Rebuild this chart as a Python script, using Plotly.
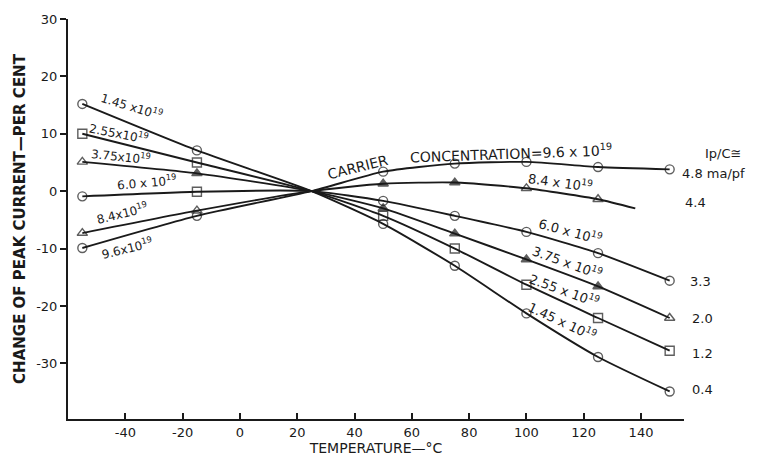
import plotly.graph_objects as go

# ---- data ----
temps = [-55, -15, 25, 50, 75, 100, 125, 150]
temps_84 = [-55, -15, 25, 50, 75, 100, 125, 138]

y_145 = [15.2, 7.1, 0, -5.7, -13.0, -21.3, -28.9, -34.9]
y_255 = [10.0, 5.0, 0, -4.3, -10.0, -16.3, -22.1, -27.8]
y_375 = [5.1, 3.1, 0, -3.0, -7.4, -11.9, -16.6, -22.1]
y_60 = [-0.9, -0.1, 0, -1.7, -4.3, -7.1, -10.8, -15.6]
y_84 = [-7.3, -3.4, 0, 1.3, 1.5, 0.5, -1.4, -3.0]
y_96 = [-9.9, -4.3, 0, 3.4, 4.8, 5.1, 4.2, 3.8]

sym_145 = ["circle-open"] * 8
sym_255 = ["square-open"] * 8
sym_375 = ["triangle-up-open", "triangle-up", "circle", "triangle-up", "triangle-up",
           "triangle-up", "triangle-up", "triangle-up-open"]
sym_60 = ["circle-open", "square-open", "circle", "circle-open", "circle-open",
          "circle-open", "circle-open", "circle-open"]
sym_84 = ["triangle-up-open", "triangle-up-open", "circle", "triangle-up", "triangle-up",
          "triangle-up-open", "triangle-up-open", "circle"]
sym_96 = ["circle-open"] * 8

# marker shown? (convergence point at 25 C and 8.4 line end carry no marker)
show_std = [1, 1, 0, 1, 1, 1, 1, 1]
show_84 = [1, 1, 0, 1, 1, 1, 1, 0]

x_ticks = [-40, -20, 0, 20, 40, 60, 80, 100, 120, 140]
x_tick_labels = ["-40", "-20", "0", "20", "40", "60", "80", "100", "120", "140"]
y_ticks = [-30, -20, -10, 0, 10, 20, 30]
y_tick_labels = ["-30", "-20", "-10", "0", "10", "20", "30"]

ipc_header = "Ip/C≅"
ipc_values = ["4.8 ma/pf", "4.4", "3.3", "2.0", "1.2", "0.4"]

FONT = "DejaVu Sans"
INK = "#1a1a1a"

fig = go.Figure()

series = [
    (temps, y_145, sym_145, show_std),
    (temps, y_255, sym_255, show_std),
    (temps, y_375, sym_375, show_std),
    (temps, y_60, sym_60, show_std),
    (temps_84, y_84, sym_84, show_84),
    (temps, y_96, sym_96, show_std),
]
for xs, ys, syms, show in series:
    fig.add_trace(go.Scatter(
        x=xs, y=ys, mode="lines+markers",
        line=dict(color=INK, width=1.9, shape="spline", smoothing=0.6),
        marker=dict(symbol=syms, size=[9 * s for s in show], color=INK,
                    line=dict(color=INK, width=1.4)),
        showlegend=False, cliponaxis=False,
    ))

def ann(x, y, text, angle=0, size=12, xanchor="center", xref="x"):
    fig.add_annotation(x=x, y=y, xref=xref, yref="y", text=text, showarrow=False,
                       textangle=angle, xanchor=xanchor, yanchor="middle",
                       font=dict(family=FONT, size=size, color=INK))

# left labels
ann(-37.8, 14.8, "1.45 x10<sup>19</sup>", 17)
ann(-42.3, 10.2, "2.55x10<sup>19</sup>", 11)
ann(-41.6, 6.1, "3.75x10<sup>19</sup>", 6)
ann(-32.5, 1.6, "6.0 x 10<sup>19</sup>", -5)
ann(-41.3, -3.8, "8.4x10<sup>19</sup>", -14)
ann(-39.5, -9.9, "9.6x10<sup>19</sup>", -14)

# right labels
ann(41.3, 4.2, "CARRIER", -14, 14)
ann(94.5, 6.6, "CONCENTRATION=9.6 x 10<sup>19</sup>", -2, 14)
ann(111.9, 1.6, "8.4 x 10<sup>19</sup>", 8, 13)
ann(115.4, -7.0, "6.0 x 10<sup>19</sup>", 15, 13)
ann(114.3, -12.3, "3.75 x 10<sup>19</sup>", 20, 13)
ann(113.3, -17.2, "2.55 x 10<sup>19</sup>", 20, 13)
ann(112.6, -22.6, "1.45 x 10<sup>19</sup>", 25, 13)

# Ip/C column (paper x so it can sit right of the axis)
ann(1.031, 6.6, ipc_header, 0, 13, "left", "paper")
ipc_pos = [(0.9935, 3.1), (0.998, -1.9), (1.0065, -15.8),
           (1.0097, -22.1), (1.0097, -28.2), (1.0097, -34.6)]
for txt, (px, py) in zip(ipc_values, ipc_pos):
    ann(px, py, txt, 0, 13, "left", "paper")

fig.update_layout(
    width=760, height=456,
    margin=dict(l=60, r=84, t=10.5, b=45),
    paper_bgcolor="white", plot_bgcolor="white",
    font=dict(family=FONT, size=13, color=INK),
    xaxis=dict(range=[-60, 155], tickvals=x_ticks, ticktext=x_tick_labels,
               ticks="inside", ticklen=6, automargin=False,
               tickwidth=1.5, tickcolor=INK, showline=True, linecolor=INK,
               linewidth=2, showgrid=False, zeroline=False,
               title=dict(text="TEMPERATURE—°C", font=dict(size=14), standoff=2),
               tickfont=dict(size=13)),
    yaxis=dict(range=[-39.7, 30], tickvals=y_ticks, ticktext=y_tick_labels,
               ticks="outside", ticklen=6, tickwidth=1.5, tickcolor=INK,
               showline=True, linecolor=INK, linewidth=2, showgrid=False,
               zeroline=False, automargin=False,
               title=dict(text="<b>CHANGE OF PEAK CURRENT—PER CENT</b>",
                          font=dict(size=15), standoff=7),
               tickfont=dict(size=13)),
)

fig.write_html("out.html")
